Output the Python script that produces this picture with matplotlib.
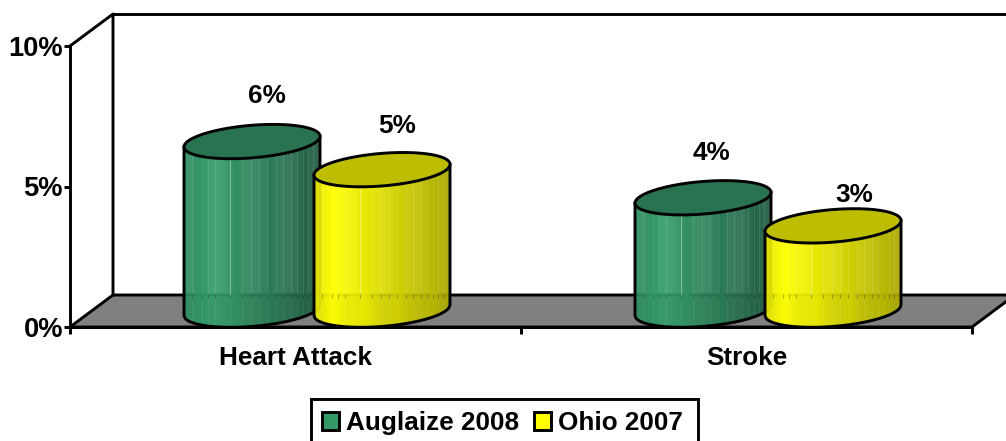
import matplotlib
matplotlib.use("Agg")
import matplotlib.pyplot as plt
import numpy as np
from matplotlib.patches import Patch, Rectangle

plt.rcParams["font.family"] = ["Liberation Sans", "DejaVu Sans"]
plt.rcParams["font.weight"] = "bold"

categories = ["Heart Attack", "Stroke"]
series_names = ["Auglaize 2008", "Ohio 2007"]
auglaize = [6, 4]
ohio = [5, 3]
y_ticks = [0, 5, 10]
y_labels = ["0%", "5%", "10%"]

LW = 2.1
FS = 18.8

# depth of the box, in axis units
DX = 43 / 451
DY = 32 / 28.1
# cylinder shape
RX = 68 / 451
RY = 0.58
TILT = 0.19
OFFSET = 65 / 451

# light seams across the cylinder wall (fraction of width)
SEAMS = [0.06, 0.13, 0.175, 0.226, 0.336, 0.43, 0.496, 0.555, 0.613,
         0.68, 0.73, 0.79, 0.83, 0.876, 0.91, 0.945]

GREEN = {"stops": [0, 0.22, 1], "colors": [(46, 140, 96), (52, 156, 106), (32, 90, 64)],
         "top": "#2A7350", "flat": "#339966"}
YELLOW = {"stops": [0, 0.15, 1], "colors": [(232, 232, 0), (255, 255, 0), (168, 168, 0)],
          "top": "#BEBE00", "flat": "#FFFF00"}


def wall_color(style, f):
    rgb = [np.interp(f, style["stops"], [c[i] for c in style["colors"]]) for i in range(3)]
    return tuple(v / 255 for v in rgb)


def cylinder(ax, cx, value, style, z):
    base = DY / 2 + 0.03
    top = base + value
    xs = np.linspace(-1, 1, 141)
    round_part = RY * np.sqrt(1 - xs ** 2)
    lower = base + TILT * xs - round_part
    upper = top + TILT * xs - round_part
    px = cx + RX * xs

    for i in range(len(xs) - 1):
        ax.fill_between(px[i:i + 2], lower[i:i + 2], upper[i:i + 2],
                        color=wall_color(style, (xs[i] + 1) / 2), lw=0.3,
                        zorder=z, clip_on=False)

    for f in SEAMS:
        u = 2 * f - 1
        r = RY * np.sqrt(1 - u ** 2)
        x = cx + RX * u
        y0 = base + TILT * u - r
        y1 = top + TILT * u - r
        strength = 0.45 if f == 0.336 else 0.13
        ax.plot([x, x], [DY, y1], color="white", alpha=strength, lw=0.6, zorder=z, clip_on=False)
        ax.plot([x, x], [y0, DY], color="white", alpha=0.08, lw=0.6, zorder=z, clip_on=False)
        ax.plot([x, x], [DY - 0.09, DY + 0.05], color="black", alpha=0.3, lw=0.6, zorder=z, clip_on=False)

    ax.plot(np.r_[px[0], px, px[-1]], np.r_[upper[0], lower, upper[-1]],
            color="black", lw=LW, zorder=z + 0.1, clip_on=False)

    t = np.linspace(0, 2 * np.pi, 200)
    ax.fill(cx + RX * np.cos(t), top + TILT * np.cos(t) + RY * np.sin(t),
            facecolor=style["top"], edgecolor="black", lw=LW, zorder=z + 0.2, clip_on=False)
    return top


fig = plt.figure(figsize=(10.06, 4.41), dpi=100)
ax = fig.add_axes([70 / 1006, 1 - 327 / 441, 902 / 1006, 281 / 441])
ax.set_xlim(0, 2)
ax.set_ylim(0, 10)

# floor and back walls
ax.fill([0, 2, 2 + DX, DX], [0, 0, DY, DY], facecolor="#808080", edgecolor="black",
        lw=LW, zorder=1, clip_on=False)
ax.plot([0, DX, DX], [10, 10 + DY, DY], color="black", lw=LW, zorder=1, clip_on=False)
ax.plot([DX, 2 + DX], [10 + DY, 10 + DY], color="black", lw=LW, zorder=1, clip_on=False)

for side in ["top", "right"]:
    ax.spines[side].set_visible(False)
for side in ["left", "bottom"]:
    ax.spines[side].set_linewidth(LW)

ax.set_yticks(y_ticks)
ax.set_yticklabels(y_labels, fontsize=19.6, fontweight="bold")
ax.tick_params(axis="y", length=4, width=LW, pad=1)
ax.set_xticks([0, 1, 2])
ax.set_xticklabels([])
ax.tick_params(axis="x", which="major", length=5, width=LW)
ax.set_xticks([0.5, 1.5], minor=True)
ax.set_xticklabels(categories, minor=True, fontsize=FS, fontweight="bold")
ax.tick_params(axis="x", which="minor", length=0, pad=13.5)

# value labels sit at hand-placed offsets above each cylinder top
label_offsets = [[(10.7, 33), (10.7, 31.5)], [(6, 32), (15, 22.5)]]

for i in range(len(categories)):
    mid = i + 0.5 + DX / 2
    for j, (vals, style) in enumerate(zip([auglaize, ohio], [GREEN, YELLOW])):
        cx = mid + (2 * j - 1) * OFFSET
        top = cylinder(ax, cx, vals[i], style, 3 + j)
        ax.annotate(f"{vals[i]}%", (cx, top), xytext=label_offsets[i][j],
                    textcoords="offset points", ha="center", va="center",
                    fontsize=FS, fontweight="bold", zorder=6)

# legend box runs off the bottom edge of the figure
fig.add_artist(Rectangle((311 / 1006, -0.02), 387 / 1006, 1 - 399 / 441 + 0.02,
                         transform=fig.transFigure, facecolor="white",
                         edgecolor="black", lw=LW))
handles = [Patch(facecolor=GREEN["flat"], edgecolor="black", lw=LW),
           Patch(facecolor=YELLOW["flat"], edgecolor="black", lw=LW)]
fig.legend(handles, series_names, ncol=2, loc="upper left",
           bbox_to_anchor=(321.5 / 1006, 1 - 411 / 441), prop={"size": FS, "weight": "bold"},
           frameon=False, handlelength=0.66, handleheight=0.66, handletextpad=0.27,
           columnspacing=0.58, borderpad=0, borderaxespad=0)

fig.savefig("out.png", dpi=100)
